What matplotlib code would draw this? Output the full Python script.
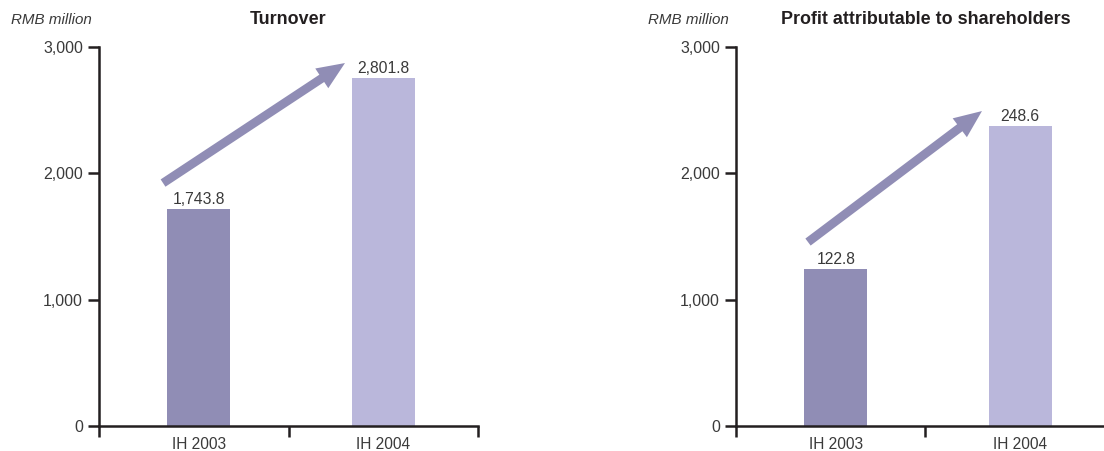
import matplotlib
matplotlib.use('Agg')
import matplotlib.pyplot as plt
from matplotlib.patches import FancyArrowPatch

plt.rcParams['font.family'] = ['Liberation Sans', 'DejaVu Sans']

periods = ['IH 2003', 'IH 2004']
turnover_height = [1718, 2755]
turnover_labels = ['1,743.8', '2,801.8']
profit_height = [1243, 2375]
profit_labels = ['122.8', '248.6']
# arrow start / end in data coords
turnover_arrow = [(0.338, 1923), (1.298, 2873)]
profit_arrow = [(0.380, 1456), (1.298, 2493)]

bar_colors = ['#908db5', '#bab7db']
arrow_color = '#908db5'
axis_color = '#231f20'
text_color = '#3a3a3a'

fig = plt.figure(figsize=(11.04, 4.51), dpi=100)
ax1 = fig.add_axes([99 / 1104, 1 - 426 / 451, 379 / 1104, 379 / 451])
ax2 = fig.add_axes([736 / 1104, 1 - 426 / 451, 379 / 1104, 379 / 451])


def draw_panel(ax, title, heights, labels, arrow):
    xs = [0.527, 1.5]
    ax.bar(xs, heights, width=0.333, color=bar_colors, zorder=2)
    for x, h, lab in zip(xs, heights, labels):
        ax.annotate(lab, xy=(x, h), xytext=(0, 1.5), textcoords='offset points',
                    ha='center', va='bottom', fontsize=11.3, color=text_color)
    arr = FancyArrowPatch(arrow[0], arrow[1],
                          arrowstyle='simple,head_length=20,head_width=17,tail_width=6.3',
                          mutation_scale=1, shrinkA=0, shrinkB=0,
                          color=arrow_color, lw=0, zorder=3)
    ax.add_patch(arr)

    ax.set_xlim(0, 2)
    ax.set_ylim(0, 3000)
    for s in ['top', 'right']:
        ax.spines[s].set_visible(False)
    for s in ['left', 'bottom']:
        ax.spines[s].set_color(axis_color)
        ax.spines[s].set_linewidth(1.8)
        ax.spines[s].set_capstyle('projecting')
    ax.set_yticks([0, 1000, 2000, 3000])
    ax.set_yticklabels(['0', '1,000', '2,000', '3,000'])
    ax.set_xticks([0, 1, 2])
    ax.set_xticklabels([])
    ax.set_xticks(xs, minor=True)
    ax.set_xticklabels(periods, minor=True)
    ax.tick_params(axis='both', which='major', length=8, width=1.8, color=axis_color,
                   labelsize=11.5, labelcolor=text_color, direction='out')
    ax.tick_params(axis='y', pad=3.5)
    ax.tick_params(axis='x', which='minor', length=0, pad=8,
                   labelsize=11.2, labelcolor=text_color)

    ax.annotate(title, xy=(0.5, 1), xycoords='axes fraction', xytext=(0, 16.5),
                textcoords='offset points', ha='center', va='baseline',
                fontsize=12.9, fontweight='bold', color='#231f20')
    ax.annotate('RMB million', xy=(0, 1), xycoords='axes fraction', xytext=(-63.5, 16.5),
                textcoords='offset points', ha='left', va='baseline',
                fontsize=10.9, style='italic', color=text_color)


draw_panel(ax1, 'Turnover', turnover_height, turnover_labels, turnover_arrow)
draw_panel(ax2, 'Profit attributable to shareholders', profit_height, profit_labels, profit_arrow)

fig.savefig('out.png', dpi=100)
